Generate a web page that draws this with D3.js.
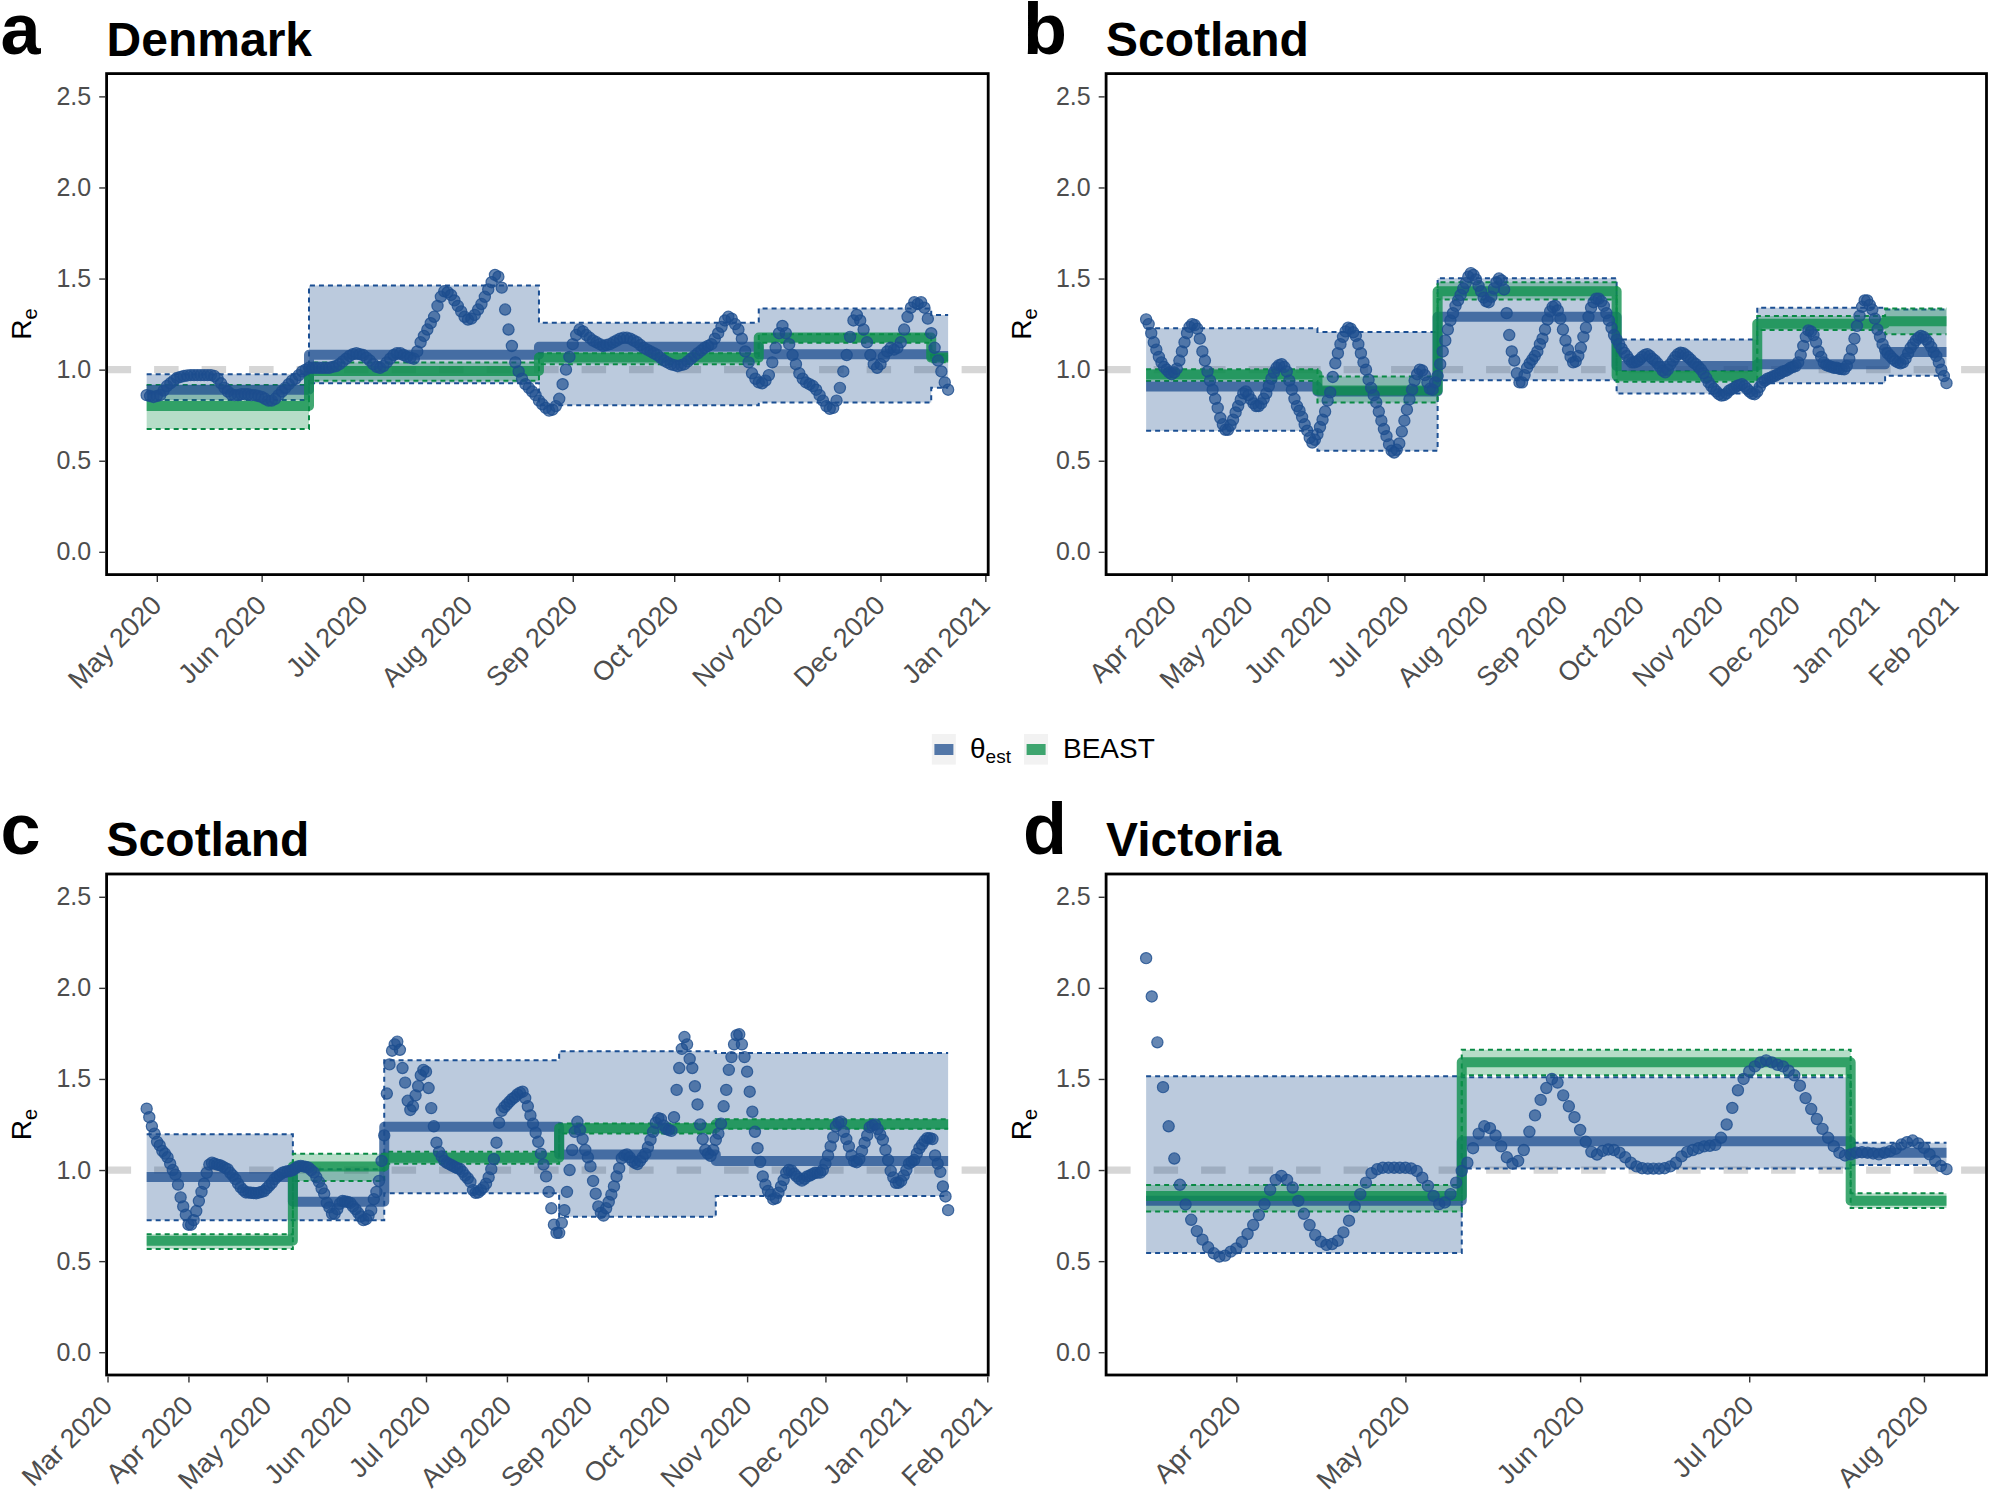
<!DOCTYPE html>
<html>
<head>
<meta charset="utf-8">
<script src="https://cdn.jsdelivr.net/npm/d3@7"></script>
<style>
  body { margin: 0; background: #fff; }
</style>
</head>
<body>
<div id="chart"></div>
<script>
// ---- data ----
const panelTags = ["a", "b", "c", "d"];
const panelTitles = ["Denmark", "Scotland", "Scotland", "Victoria"];
const yTicks = [0, 0.5, 1, 1.5, 2, 2.5];
const legendLabels = [["θ", "est"], ["BEAST", ""]];

// a: Denmark, daily R_e points
const denmarkStart = "2020-04-28";
const denmarkRe = [
  0.86, 0.855, 0.85, 0.855, 0.86, 0.885, 0.91, 0.925, 0.94, 0.955, 0.96, 0.965, 0.968,
  0.97, 0.97, 0.97, 0.97, 0.97, 0.97, 0.97, 0.965, 0.95, 0.925,
  0.90, 0.88, 0.865, 0.86, 0.86, 0.865, 0.865, 0.865, 0.86, 0.86,
  0.855, 0.85, 0.84, 0.83, 0.83, 0.84, 0.86, 0.88, 0.90, 0.92,
  0.94, 0.95, 0.97, 0.99, 1.00, 1.01, 1.01, 1.01, 1.01,
  1.01, 1.01, 1.01, 1.015, 1.02, 1.03, 1.045, 1.06, 1.075, 1.085,
  1.09, 1.085, 1.08, 1.065, 1.05, 1.03, 1.015, 1.01, 1.02, 1.04,
  1.06, 1.08, 1.09, 1.09, 1.08, 1.07, 1.065, 1.06, 1.10, 1.15,
  1.185, 1.22, 1.255, 1.29, 1.35, 1.40, 1.43, 1.425, 1.41, 1.38,
  1.35, 1.32, 1.29, 1.275, 1.28, 1.30, 1.33, 1.36, 1.40, 1.44,
  1.48, 1.52, 1.51, 1.45, 1.33, 1.22, 1.13, 1.04, 0.99, 0.95,
  0.92, 0.90, 0.88, 0.86, 0.83, 0.81, 0.79, 0.775, 0.78, 0.80,
  0.84, 0.92, 1.00, 1.07, 1.14, 1.19, 1.22, 1.21, 1.19, 1.175,
  1.16, 1.15, 1.14, 1.13, 1.135, 1.14, 1.15, 1.16, 1.17,
  1.175, 1.175, 1.17, 1.16, 1.15, 1.135, 1.12, 1.11, 1.10, 1.09,
  1.08, 1.065, 1.05, 1.04, 1.03, 1.025, 1.02, 1.025, 1.03, 1.045,
  1.06, 1.075, 1.09, 1.105, 1.12, 1.13, 1.14, 1.17, 1.20, 1.235,
  1.27, 1.29, 1.28, 1.25, 1.22, 1.17, 1.10, 1.04, 0.98, 0.95,
  0.93, 0.925, 0.94, 0.97, 1.04, 1.12, 1.20, 1.24, 1.20, 1.14,
  1.08, 1.03, 0.98, 0.95, 0.93, 0.92, 0.91, 0.89, 0.86, 0.83,
  0.80, 0.785, 0.79, 0.83, 0.90, 0.99, 1.08, 1.18, 1.27, 1.30,
  1.27, 1.22, 1.15, 1.08, 1.03, 1.01, 1.03, 1.07, 1.10, 1.12,
  1.11, 1.12, 1.15, 1.22, 1.29, 1.34, 1.37, 1.36, 1.37,
  1.34, 1.28, 1.20, 1.12, 1.05, 0.99, 0.93, 0.89
];
const denmarkBreaks = ["2020-06-15", "2020-08-22", "2020-10-26", "2020-12-16"];
const denmarkEst = [0.89, 1.082, 1.126, 1.084, 1.075];
const denmarkEstLo = [0.834, 0.925, 0.805, 0.82, 0.90];
const denmarkEstHi = [0.975, 1.462, 1.258, 1.336, 1.30];
const denmarkBeast = [0.80, 0.993, 1.066, 1.176, 1.066];
const denmarkBeastLo = [0.674, 0.939, 1.030, 1.148, 1.04];
const denmarkBeastHi = [0.916, 1.039, 1.090, 1.194, 1.08];

// b: Scotland
const scotlandBStart = "2020-03-22";
const scotlandBRe = [
  1.276, 1.25, 1.20, 1.15, 1.11, 1.07, 1.04, 1.015, 1.00, 0.985,
  0.975, 0.985, 1.005, 1.05, 1.10, 1.15, 1.20, 1.235, 1.25, 1.245,
  1.225, 1.17, 1.10, 1.05, 0.99, 0.94, 0.89, 0.84, 0.79, 0.735,
  0.70, 0.67, 0.67, 0.695, 0.725, 0.765, 0.80, 0.835, 0.87, 0.88,
  0.86, 0.837, 0.815, 0.80, 0.80, 0.815, 0.84, 0.87, 0.91, 0.95,
  0.985, 1.01, 1.025, 1.03, 1.015, 0.99, 0.94, 0.89, 0.84, 0.80,
  0.775, 0.74, 0.70, 0.665, 0.625, 0.60, 0.615, 0.645, 0.685, 0.725,
  0.77, 0.83, 0.875, 0.96, 1.035, 1.09, 1.14, 1.18, 1.21, 1.23,
  1.225, 1.205, 1.185, 1.14, 1.09, 1.04, 1.00, 0.945, 0.90, 0.86,
  0.82, 0.77, 0.72, 0.674, 0.635, 0.59, 0.555, 0.545, 0.56, 0.595,
  0.66, 0.72, 0.78, 0.837, 0.89, 0.94, 0.975, 1.00, 0.995, 0.97,
  0.93, 0.895, 0.89, 0.93, 0.965, 1.03, 1.10, 1.16, 1.22, 1.27,
  1.31, 1.35, 1.38, 1.41, 1.445, 1.475, 1.51, 1.53, 1.52, 1.495,
  1.46, 1.43, 1.395, 1.375, 1.37, 1.40, 1.445, 1.48, 1.50, 1.49,
  1.44, 1.31, 1.19, 1.10, 1.05, 0.98, 0.93, 0.93, 0.97, 1.01,
  1.035, 1.055, 1.075, 1.10, 1.14, 1.17, 1.22, 1.275, 1.32, 1.345,
  1.35, 1.325, 1.28, 1.22, 1.16, 1.11, 1.07, 1.04, 1.045, 1.075,
  1.12, 1.18, 1.23, 1.29, 1.34, 1.37, 1.39, 1.39, 1.375, 1.35,
  1.31, 1.27, 1.23, 1.19, 1.165, 1.14, 1.115, 1.093, 1.075, 1.055,
  1.04, 1.04, 1.045, 1.055, 1.07, 1.08, 1.085, 1.075, 1.06, 1.05,
  1.035, 1.015, 0.995, 0.985, 1.00, 1.03, 1.05, 1.07, 1.085, 1.093,
  1.09, 1.08, 1.068, 1.055, 1.04, 1.03, 1.015, 1.00, 0.98, 0.955,
  0.93, 0.91, 0.895, 0.88, 0.865, 0.858, 0.86, 0.87, 0.885, 0.893,
  0.90, 0.91, 0.915, 0.92, 0.91, 0.895, 0.88, 0.868, 0.865, 0.88,
  0.905, 0.93, 0.94, 0.95, 0.955, 0.962, 0.966, 0.975, 0.98, 0.99,
  0.993, 1.00, 1.01, 1.015, 1.02, 1.04, 1.08, 1.13, 1.18, 1.215,
  1.21, 1.19, 1.15, 1.10, 1.07, 1.04, 1.025, 1.02, 1.015, 1.01,
  1.01, 1.005, 1.003, 1.002, 1.02, 1.06, 1.11, 1.17, 1.24, 1.295,
  1.345, 1.38, 1.38, 1.355, 1.33, 1.28, 1.22, 1.18, 1.14, 1.11,
  1.09, 1.075, 1.06, 1.048, 1.04, 1.035, 1.04, 1.06, 1.09, 1.12,
  1.14, 1.16, 1.175, 1.185, 1.18, 1.165, 1.148, 1.125, 1.095, 1.075,
  1.04, 1.00, 0.965, 0.926
];
const scotlandBBreaks = ["2020-05-28", "2020-07-14", "2020-09-22", "2020-11-16", "2021-01-05"];
const scotlandBEst = [0.907, 0.88, 1.29, 1.02, 1.029, 1.097];
const scotlandBEstLo = [0.664, 0.555, 0.942, 0.869, 0.926, 0.966];
const scotlandBEstHi = [1.227, 1.207, 1.501, 1.166, 1.34, 1.33];
const scotlandBBeast = [0.974, 0.886, 1.43, 0.966, 1.252, 1.266];
const scotlandBBeastLo = [0.938, 0.82, 1.385, 0.933, 1.217, 1.194];
const scotlandBBeastHi = [1.002, 0.962, 1.48, 0.993, 1.294, 1.336];

// c: Scotland
const scotlandCStart = "2020-03-16";
const scotlandCRe = [
  1.337, 1.29, 1.24, 1.20, 1.155, 1.135, 1.105, 1.09, 1.07, 1.035,
  1.00, 0.975, 0.92, 0.85, 0.80, 0.755, 0.70, 0.70, 0.725, 0.775,
  0.83, 0.88, 0.925, 0.985, 1.03, 1.04, 1.035, 1.03, 1.027, 1.02,
  1.012, 1.005, 0.985, 0.97, 0.95, 0.925, 0.905, 0.89, 0.877, 0.877,
  0.875, 0.874, 0.873, 0.876, 0.88, 0.885, 0.90, 0.915, 0.93, 0.95,
  0.965, 0.975, 0.985, 0.99, 0.993, 0.995, 1.00, 1.01, 1.02, 1.023,
  1.02, 1.017, 1.013, 1.00, 0.987, 0.96, 0.935, 0.90, 0.87, 0.82,
  0.795, 0.76, 0.76, 0.785, 0.815, 0.83, 0.828, 0.825, 0.82, 0.80,
  0.785, 0.765, 0.745, 0.725, 0.73, 0.75, 0.78, 0.84, 0.88, 0.94,
  1.05, 1.19, 1.42, 1.58, 1.655, 1.69, 1.705, 1.66, 1.56, 1.48,
  1.38, 1.33, 1.35, 1.41, 1.46, 1.52, 1.55, 1.54, 1.45, 1.34,
  1.24, 1.15, 1.10, 1.075, 1.05, 1.04, 1.032, 1.025, 1.017, 1.01,
  1.006, 0.99, 0.97, 0.955, 0.935, 0.89, 0.875, 0.877, 0.89, 0.905,
  0.925, 0.96, 1.005, 1.06, 1.15, 1.26, 1.325, 1.345, 1.36, 1.375,
  1.39, 1.40, 1.415, 1.425, 1.43, 1.395, 1.35, 1.30, 1.255, 1.205,
  1.155, 1.09, 1.03, 0.965, 0.88, 0.79, 0.70, 0.655, 0.655, 0.71,
  0.78, 0.88, 1.00, 1.11, 1.21, 1.265, 1.22, 1.17, 1.11, 1.07,
  1.02, 0.94, 0.87, 0.80, 0.765, 0.75, 0.79, 0.825, 0.865, 0.91,
  0.965, 1.01, 1.065, 1.08, 1.085, 1.07, 1.05, 1.04, 1.033, 1.05,
  1.07, 1.09, 1.125, 1.165, 1.21, 1.26, 1.285, 1.28, 1.245, 1.225,
  1.22, 1.215, 1.29, 1.44, 1.56, 1.665, 1.73, 1.69, 1.61, 1.56,
  1.46, 1.36, 1.25, 1.17, 1.11, 1.09, 1.078, 1.11, 1.165, 1.20,
  1.255, 1.35, 1.44, 1.55, 1.62, 1.69, 1.74, 1.745, 1.69, 1.62,
  1.54, 1.43, 1.32, 1.21, 1.12, 1.045, 0.965, 0.92, 0.885, 0.865,
  0.84, 0.845, 0.875, 0.91, 0.945, 0.985, 1.00, 0.997, 0.98, 0.965,
  0.952, 0.942, 0.952, 0.965, 0.97, 0.977, 0.985, 0.986, 0.986, 1.00,
  1.035, 1.08, 1.13, 1.18, 1.24, 1.26, 1.265, 1.21, 1.17, 1.13,
  1.08, 1.048, 1.043, 1.06, 1.105, 1.15, 1.19, 1.235, 1.245, 1.25,
  1.225, 1.195, 1.165, 1.11, 1.055, 0.995, 0.96, 0.93, 0.93, 0.94,
  0.97, 1.00, 1.035, 1.045, 1.055, 1.09, 1.12, 1.14, 1.16, 1.175,
  1.175, 1.17, 1.08, 1.035, 0.99, 0.91, 0.855, 0.78
];
const scotlandCBreaks = ["2020-05-11", "2020-06-15", "2020-08-21", "2020-10-20"];
const scotlandCEst = [0.962, 0.826, 1.238, 1.086, 1.05];
const scotlandCEstLo = [0.725, 0.725, 0.873, 0.743, 0.857];
const scotlandCEstHi = [1.196, 1.004, 1.603, 1.652, 1.643];
const scotlandCBeast = [0.612, 1.02, 1.068, 1.23, 1.252];
const scotlandCBeastLo = [0.566, 0.94, 1.035, 1.20, 1.227];
const scotlandCBeastHi = [0.648, 1.09, 1.101, 1.256, 1.279];

// d: Victoria
const victoriaStart = "2020-03-16";
const victoriaRe = [
  2.163, 1.953, 1.701, 1.455, 1.24, 1.063, 0.919, 0.811, 0.727, 0.665,
  0.618, 0.576, 0.543, 0.525, 0.53, 0.552, 0.57, 0.605, 0.649, 0.698,
  0.753, 0.813, 0.891, 0.946, 0.968, 0.946, 0.904, 0.831, 0.76, 0.698,
  0.643, 0.607, 0.589, 0.594, 0.612, 0.658, 0.722, 0.80, 0.868, 0.931,
  0.983, 1.004, 1.013, 1.013, 1.013, 1.013, 1.013, 1.009, 0.995, 0.958,
  0.913, 0.858, 0.813, 0.822, 0.868, 0.931, 0.995, 1.04, 1.12, 1.20,
  1.24, 1.23, 1.19, 1.13, 1.07, 1.035, 1.05, 1.11, 1.21, 1.30,
  1.385, 1.45, 1.50, 1.48, 1.41, 1.35, 1.29, 1.22, 1.155, 1.10,
  1.085, 1.105, 1.113, 1.11, 1.095, 1.07, 1.04, 1.02, 1.01, 1.008,
  1.008, 1.008, 1.01, 1.02, 1.04, 1.075, 1.10, 1.11, 1.12, 1.13,
  1.133, 1.138, 1.177, 1.25, 1.341, 1.438, 1.50, 1.541, 1.569, 1.591,
  1.602, 1.591, 1.578, 1.569, 1.545, 1.52, 1.463, 1.395, 1.335, 1.28,
  1.226, 1.177, 1.131, 1.095, 1.08, 1.086, 1.095, 1.098, 1.095, 1.091,
  1.086, 1.095, 1.104, 1.117, 1.14, 1.153, 1.162, 1.146, 1.122, 1.086,
  1.049, 1.022, 1.005
];
const victoriaBreaks = ["2020-05-11", "2020-07-19"];
const victoriaEst = [0.831, 1.158, 1.095];
const victoriaEstLo = [0.545, 1.008, 1.028];
const victoriaEstHi = [1.515, 1.51, 1.15];
const victoriaBeast = [0.858, 1.592, 0.831];
const victoriaBeastLo = [0.773, 1.52, 0.791];
const victoriaBeastHi = [0.918, 1.66, 0.873];

// ---- drawing ----
const W = 1989, H = 1490;
const BLUE = "#1d4e8f", GREEN = "#0c8f4a";
const FONT = "'Liberation Sans', Arial, Helvetica, sans-serif";
const parse = d3.timeParse("%Y-%m-%d");

const svg = d3.select("#chart").append("svg")
  .attr("width", W)
  .attr("height", H)
  .style("font-family", FONT);

svg.append("rect").attr("width", W).attr("height", H).attr("fill", "#fff");

const panels = [
  { box: [106.6, 73.6, 988.2, 574.6], start: denmarkStart, re: denmarkRe, breaks: denmarkBreaks,
    est: [denmarkEst, denmarkEstLo, denmarkEstHi], beast: [denmarkBeast, denmarkBeastLo, denmarkBeastHi] },
  { box: [1106.1, 73.6, 1986.5, 574.6], start: scotlandBStart, re: scotlandBRe, breaks: scotlandBBreaks,
    est: [scotlandBEst, scotlandBEstLo, scotlandBEstHi], beast: [scotlandBBeast, scotlandBBeastLo, scotlandBBeastHi] },
  { box: [106.6, 874, 988.2, 1375], start: scotlandCStart, re: scotlandCRe, breaks: scotlandCBreaks,
    est: [scotlandCEst, scotlandCEstLo, scotlandCEstHi], beast: [scotlandCBeast, scotlandCBeastLo, scotlandCBeastHi] },
  { box: [1106.1, 874, 1986.5, 1375], start: victoriaStart, re: victoriaRe, breaks: victoriaBreaks,
    est: [victoriaEst, victoriaEstLo, victoriaEstHi], beast: [victoriaBeast, victoriaBeastLo, victoriaBeastHi] }
];

function stepData(first, last, breaks, [mean, lo, hi]) {
  const edges = [first, ...breaks.map(parse), last];
  return edges.map((d, i) => {
    const k = Math.min(i, mean.length - 1);
    return { date: d, mean: mean[k], lo: lo[k], hi: hi[k] };
  });
}

function drawPanel(p, i) {
  const [left, top, right, bottom] = p.box;
  const t0 = parse(p.start);
  const points = p.re.map((v, k) => ({ date: d3.timeDay.offset(t0, k), v }));
  const first = points[0].date, last = points[points.length - 1].date;

  // ggplot style 5% expansion
  const pad = (last - first) * 0.05;
  const x = d3.scaleTime()
    .domain([new Date(+first - pad), new Date(+last + pad)])
    .range([left, right]);
  const y = d3.scaleLinear().domain([-0.125, 2.625]).range([bottom, top]);

  const g = svg.append("g");
  const clipId = "clip" + i;
  g.append("clipPath").attr("id", clipId)
    .append("rect").attr("x", left).attr("y", top)
    .attr("width", right - left).attr("height", bottom - top);
  const plot = g.append("g").attr("clip-path", `url(#${clipId})`);

  // reference line at 1
  plot.append("line")
    .attr("x1", left).attr("x2", right)
    .attr("y1", y(1)).attr("y2", y(1))
    .attr("stroke", "#d6d6d6")
    .attr("stroke-width", 7.3)
    .attr("stroke-dasharray", "24.5 23");

  const est = stepData(first, last, p.breaks, p.est);
  const beast = stepData(first, last, p.breaks, p.beast);

  const area = d3.area().curve(d3.curveStepAfter)
    .x(d => x(d.date)).y0(d => y(d.lo)).y1(d => y(d.hi));
  const line = key => d3.line().curve(d3.curveStepAfter)
    .x(d => x(d.date)).y(d => y(d[key]));

  [[est, BLUE, "#1b4f93"], [beast, GREEN, "#0a8a45"]].forEach(([data, col, edge]) => {
    plot.append("path").attr("d", area(data))
      .attr("fill", col).attr("fill-opacity", 0.3);
    ["lo", "hi"].forEach(k => {
      plot.append("path").attr("d", line(k)(data))
        .attr("fill", "none").attr("stroke", edge)
        .attr("stroke-width", 2).attr("stroke-dasharray", "5 4");
    });
  });

  [[est, BLUE, 0.75], [beast, GREEN, 0.78]].forEach(([data, col, op]) => {
    plot.append("path").attr("d", line("mean")(data))
      .attr("fill", "none").attr("stroke", col)
      .attr("stroke-opacity", op)
      .attr("stroke-width", 10)
      .attr("stroke-linejoin", "round");
  });

  plot.append("g")
    .selectAll("circle")
    .data(points)
    .join("circle")
      .attr("cx", d => x(d.date))
      .attr("cy", d => y(d.v))
      .attr("r", 5.6)
      .attr("fill", BLUE).attr("fill-opacity", 0.68)
      .attr("stroke", BLUE).attr("stroke-opacity", 0.8)
      .attr("stroke-width", 1.2);

  // panel border
  g.append("rect")
    .attr("x", left).attr("y", top)
    .attr("width", right - left).attr("height", bottom - top)
    .attr("fill", "none").attr("stroke", "#000").attr("stroke-width", 2.8);

  // axes
  const yAxis = g.append("g")
    .attr("transform", `translate(${left - 1.4},0)`)
    .call(d3.axisLeft(y).tickValues(yTicks).tickFormat(d3.format(".1f")).tickSize(6).tickPadding(8));
  yAxis.select(".domain").remove();
  yAxis.selectAll("line").attr("stroke", "#333").attr("stroke-width", 1.4);
  yAxis.selectAll("text").attr("fill", "#4d4d4d").style("font-size", "25px").style("font-family", FONT);

  const xAxis = g.append("g")
    .attr("transform", `translate(0,${bottom + 1.4})`)
    .call(d3.axisBottom(x).ticks(d3.timeMonth.every(1)).tickFormat(d3.timeFormat("%b %Y")).tickSize(6));
  xAxis.select(".domain").remove();
  xAxis.selectAll("line").attr("stroke", "#333").attr("stroke-width", 1.4);
  xAxis.selectAll("text")
    .attr("x", 0).attr("y", 0).attr("dy", "0.72em")
    .attr("transform", "translate(-8,17) rotate(-45)")
    .attr("text-anchor", "end")
    .attr("fill", "#4d4d4d")
    .style("font-size", "27px").style("font-family", FONT);

  // y title R_e
  const yt = g.append("text")
    .attr("transform", `translate(${left - 75.6},${(top + bottom) / 2}) rotate(-90)`)
    .attr("text-anchor", "middle")
    .style("font-size", "28px")
    .attr("fill", "#000");
  yt.append("tspan").text("R");
  yt.append("tspan").text("e").attr("dy", 6).style("font-size", "20px");

  // tag + title
  const titleBase = top - 18;
  g.append("text")
    .attr("x", left - (i % 2 === 0 ? 106 : 83)).attr("y", titleBase - 2)
    .style("font-size", "72px").style("font-weight", "bold")
    .text(panelTags[i]);
  g.append("text")
    .attr("x", left).attr("y", titleBase)
    .style("font-size", "48px").style("font-weight", "bold")
    .text(panelTitles[i]);
}

panels.forEach(drawPanel);

// legend
const legend = svg.append("g");
const keyX = [931.8, 1024];
const textX = [970, 1063];
[BLUE, GREEN].forEach((col, k) => {
  legend.append("rect")
    .attr("x", keyX[k]).attr("y", 734).attr("width", 24).attr("height", 30.6)
    .attr("fill", "#f2f2f2");
  legend.append("rect")
    .attr("x", keyX[k] + 2.6).attr("y", 744).attr("width", 19).attr("height", 11)
    .attr("fill", col).attr("fill-opacity", k === 0 ? 0.75 : 0.78);
  const t = legend.append("text")
    .attr("x", textX[k]).attr("y", 758)
    .style("font-size", "28px").attr("fill", "#000");
  t.append("tspan").text(legendLabels[k][0]);
  if (legendLabels[k][1]) {
    t.append("tspan").text(legendLabels[k][1]).attr("dy", 5).style("font-size", "19px");
  }
});
</script>
</body>
</html>
